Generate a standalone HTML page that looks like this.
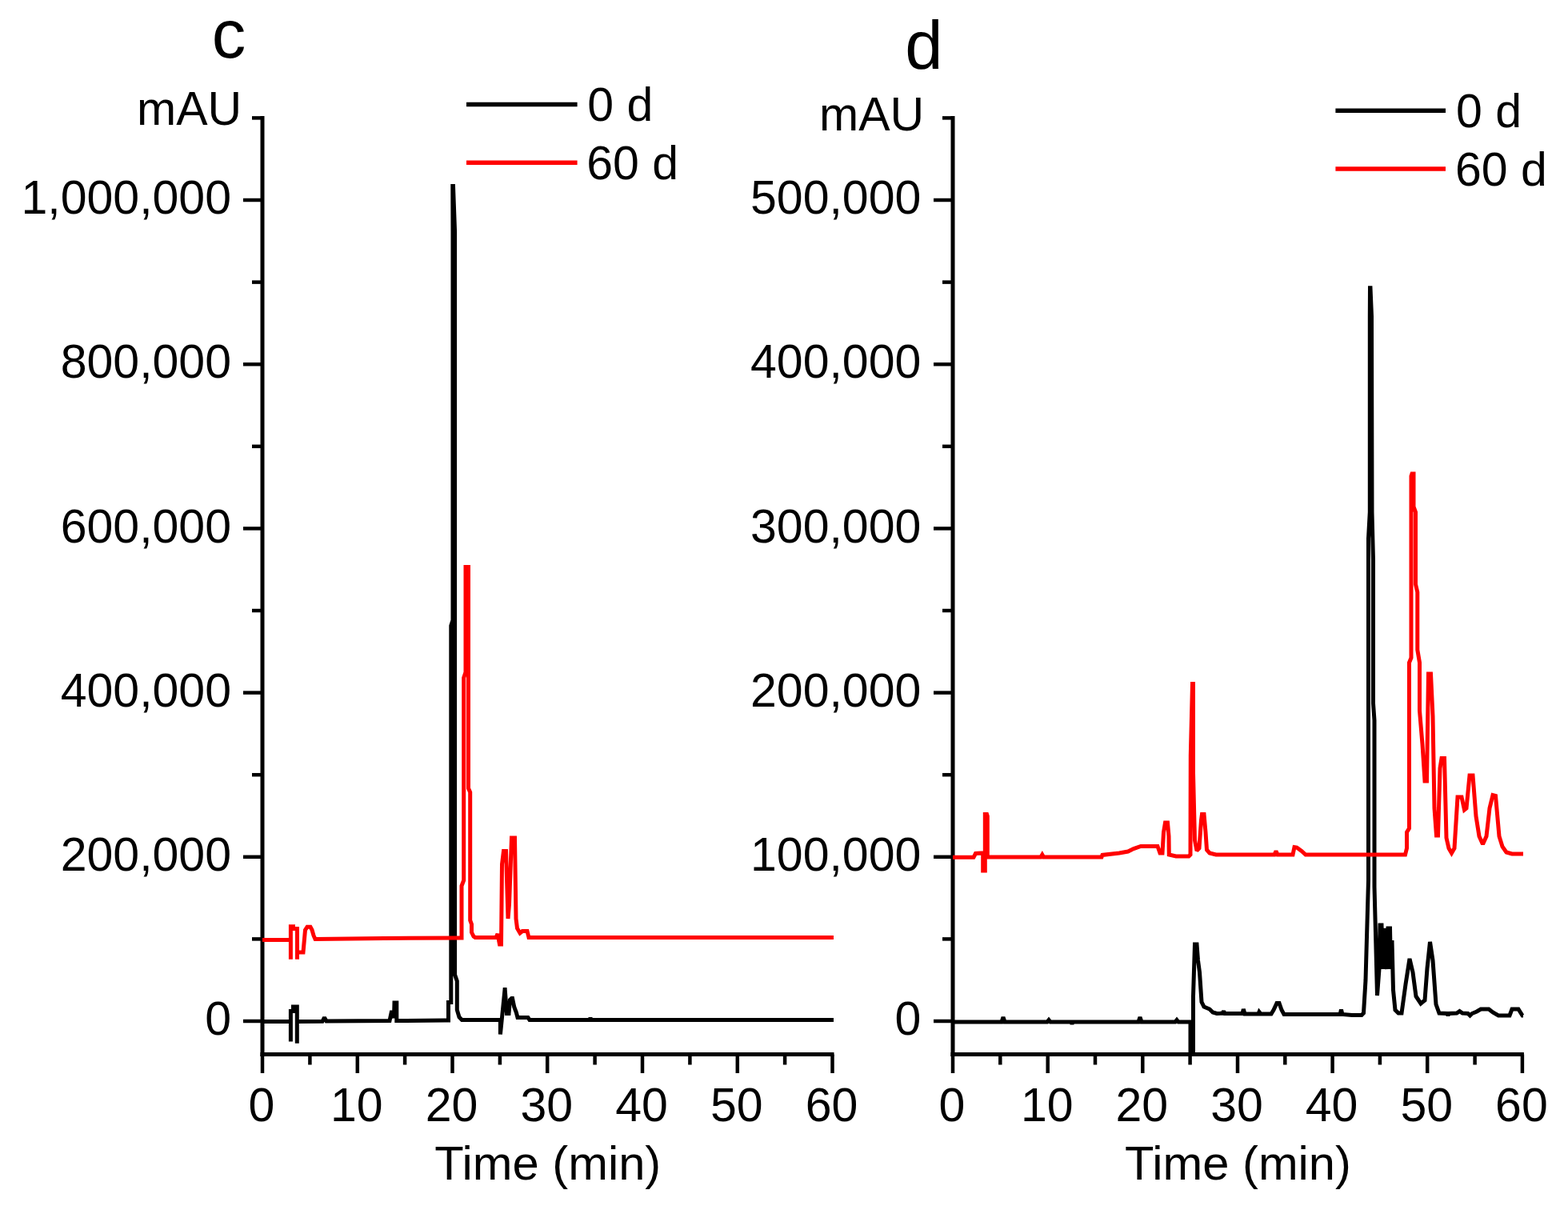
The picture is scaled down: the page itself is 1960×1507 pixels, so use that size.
<!DOCTYPE html>
<html><head><meta charset="utf-8"><title>Chromatograms c and d</title>
<style>html,body{margin:0;padding:0;background:#fff;}svg{display:block;}
text{font-family:"Liberation Sans", Arial, sans-serif;font-size:59px;fill:#000;}</style></head>
<body>
<svg width="1960" height="1507" viewBox="0 0 1960 1507">
<rect width="1960" height="1507" fill="#fff"/>
<path d="M328,145 V1320" stroke="#000" stroke-width="5" fill="none"/>
<path d="M325.5,1317.5 H1042.5" stroke="#000" stroke-width="5" fill="none"/>
<path d="M304,1276.0 H328" stroke="#000" stroke-width="4.5"/>
<path d="M304,1070.8 H328" stroke="#000" stroke-width="4.5"/>
<path d="M304,865.6 H328" stroke="#000" stroke-width="4.5"/>
<path d="M304,660.4 H328" stroke="#000" stroke-width="4.5"/>
<path d="M304,455.2 H328" stroke="#000" stroke-width="4.5"/>
<path d="M304,250.0 H328" stroke="#000" stroke-width="4.5"/>
<path d="M315,1173.4 H328" stroke="#000" stroke-width="4.5"/>
<path d="M315,968.2 H328" stroke="#000" stroke-width="4.5"/>
<path d="M315,763.0 H328" stroke="#000" stroke-width="4.5"/>
<path d="M315,557.8 H328" stroke="#000" stroke-width="4.5"/>
<path d="M315,352.6 H328" stroke="#000" stroke-width="4.5"/>
<path d="M315,147.4 H328" stroke="#000" stroke-width="4.5"/>
<path d="M328.0,1317.5 V1341" stroke="#000" stroke-width="4.5"/>
<path d="M446.8,1317.5 V1341" stroke="#000" stroke-width="4.5"/>
<path d="M565.5,1317.5 V1341" stroke="#000" stroke-width="4.5"/>
<path d="M684.2,1317.5 V1341" stroke="#000" stroke-width="4.5"/>
<path d="M803.0,1317.5 V1341" stroke="#000" stroke-width="4.5"/>
<path d="M921.8,1317.5 V1341" stroke="#000" stroke-width="4.5"/>
<path d="M1040.5,1317.5 V1341" stroke="#000" stroke-width="4.5"/>
<path d="M387.4,1317.5 V1330.5" stroke="#000" stroke-width="4.5"/>
<path d="M506.1,1317.5 V1330.5" stroke="#000" stroke-width="4.5"/>
<path d="M624.9,1317.5 V1330.5" stroke="#000" stroke-width="4.5"/>
<path d="M743.6,1317.5 V1330.5" stroke="#000" stroke-width="4.5"/>
<path d="M862.4,1317.5 V1330.5" stroke="#000" stroke-width="4.5"/>
<path d="M981.1,1317.5 V1330.5" stroke="#000" stroke-width="4.5"/>
<text x="289" y="1293.2" text-anchor="end">0</text>
<text x="289" y="1088.0" text-anchor="end">200,000</text>
<text x="289" y="882.8" text-anchor="end">400,000</text>
<text x="289" y="677.6" text-anchor="end">600,000</text>
<text x="289" y="472.4" text-anchor="end">800,000</text>
<text x="289" y="267.2" text-anchor="end">1,000,000</text>
<text x="327.0" y="1400.5" text-anchor="middle">0</text>
<text x="445.8" y="1400.5" text-anchor="middle">10</text>
<text x="564.5" y="1400.5" text-anchor="middle">20</text>
<text x="683.2" y="1400.5" text-anchor="middle">30</text>
<text x="802.0" y="1400.5" text-anchor="middle">40</text>
<text x="920.8" y="1400.5" text-anchor="middle">50</text>
<text x="1039.5" y="1400.5" text-anchor="middle">60</text>
<polyline points="328,1276.6 363.4,1276.6 363.4,1301.4 363.4,1263.5 366.5,1263.5 366.5,1258 371.3,1258 371.3,1303.7 371.3,1276.5 403,1276.3 405.5,1271.5 408,1276 487,1275.5 489.7,1263 492.5,1272 493,1253 495.8,1253 495.8,1275.5 556,1275 560.5,1275 560.5,1252.5 563.8,1252.5 563.8,782 566,775 566,290 565.8,232.5 566.5,232.5 568.6,290 568.6,1218 571.3,1226 571.3,1262 574,1271 577.4,1274.5 622,1274.5 625.4,1274.5 625.4,1292.5 631,1236.5 631.2,1236.5 633.5,1266.5 636,1266.5 637.5,1249.5 639.5,1247.5 640.5,1247.5 642.8,1258.5 645.3,1265 647,1271.5 660,1271.5 662,1274.5 737,1274.5 738,1271.8 739,1274.5 1042,1274.5" fill="none" stroke="#000" stroke-width="5" stroke-linejoin="miter" stroke-miterlimit="2"/>
<polyline points="328,1174.4 363.4,1174.4 363.4,1198.7 363.4,1157.7 366.5,1157.7 366.5,1160.5 371.5,1160.5 371.5,1198.7 371.5,1190 379,1190 381.5,1162 384,1158.3 388,1158.3 390,1162 392,1169 394,1173.5 480,1172.5 574.5,1172 577,1172 577,1107 579.7,1100 579.7,847 582,840 582,708.5 585.5,708.5 585.5,985 587.7,990 587.7,1150 589.5,1155 589.5,1165 592,1170 594,1171.5 620,1171.5 622,1167 624.5,1180 626.5,1180 627.5,1080 629.5,1063.5 632.5,1063.5 635,1148 636.5,1130 639.5,1047 643.5,1047 645,1148 646.5,1160 650,1166 653,1163.5 659,1163.5 661,1171.5 1042,1171.5" fill="none" stroke="#f00" stroke-width="5" stroke-linejoin="miter" stroke-miterlimit="2"/>
<text x="171" y="156.2">mAU</text>
<path d="M583,130.5 H721.6" stroke="#000" stroke-width="5.5"/>
<path d="M583,203.3 H721.6" stroke="#f00" stroke-width="5.5"/>
<text x="734.3" y="151.2">0 d</text>
<text x="733.3" y="224.2">60 d</text>
<text x="264.8" y="72" style="font-size:85px">c</text>
<text x="543.3" y="1474.4" style="font-size:59.7px">Time (min)</text>
<path d="M1191,145 V1320" stroke="#000" stroke-width="5" fill="none"/>
<path d="M1188.5,1317.5 H1904.9" stroke="#000" stroke-width="5" fill="none"/>
<path d="M1167,1276.0 H1191" stroke="#000" stroke-width="4.5"/>
<path d="M1167,1070.8 H1191" stroke="#000" stroke-width="4.5"/>
<path d="M1167,865.6 H1191" stroke="#000" stroke-width="4.5"/>
<path d="M1167,660.4 H1191" stroke="#000" stroke-width="4.5"/>
<path d="M1167,455.2 H1191" stroke="#000" stroke-width="4.5"/>
<path d="M1167,250.0 H1191" stroke="#000" stroke-width="4.5"/>
<path d="M1178,1173.4 H1191" stroke="#000" stroke-width="4.5"/>
<path d="M1178,968.2 H1191" stroke="#000" stroke-width="4.5"/>
<path d="M1178,763.0 H1191" stroke="#000" stroke-width="4.5"/>
<path d="M1178,557.8 H1191" stroke="#000" stroke-width="4.5"/>
<path d="M1178,352.6 H1191" stroke="#000" stroke-width="4.5"/>
<path d="M1178,147.4 H1191" stroke="#000" stroke-width="4.5"/>
<path d="M1191.0,1317.5 V1341" stroke="#000" stroke-width="4.5"/>
<path d="M1309.7,1317.5 V1341" stroke="#000" stroke-width="4.5"/>
<path d="M1428.3,1317.5 V1341" stroke="#000" stroke-width="4.5"/>
<path d="M1547.0,1317.5 V1341" stroke="#000" stroke-width="4.5"/>
<path d="M1665.6,1317.5 V1341" stroke="#000" stroke-width="4.5"/>
<path d="M1784.2,1317.5 V1341" stroke="#000" stroke-width="4.5"/>
<path d="M1902.9,1317.5 V1341" stroke="#000" stroke-width="4.5"/>
<path d="M1250.3,1317.5 V1330.5" stroke="#000" stroke-width="4.5"/>
<path d="M1369.0,1317.5 V1330.5" stroke="#000" stroke-width="4.5"/>
<path d="M1487.6,1317.5 V1330.5" stroke="#000" stroke-width="4.5"/>
<path d="M1606.3,1317.5 V1330.5" stroke="#000" stroke-width="4.5"/>
<path d="M1724.9,1317.5 V1330.5" stroke="#000" stroke-width="4.5"/>
<path d="M1843.6,1317.5 V1330.5" stroke="#000" stroke-width="4.5"/>
<text x="1151.3" y="1293.2" text-anchor="end">0</text>
<text x="1151.3" y="1088.0" text-anchor="end">100,000</text>
<text x="1151.3" y="882.8" text-anchor="end">200,000</text>
<text x="1151.3" y="677.6" text-anchor="end">300,000</text>
<text x="1151.3" y="472.4" text-anchor="end">400,000</text>
<text x="1151.3" y="267.2" text-anchor="end">500,000</text>
<text x="1190.0" y="1400.5" text-anchor="middle">0</text>
<text x="1308.7" y="1400.5" text-anchor="middle">10</text>
<text x="1427.3" y="1400.5" text-anchor="middle">20</text>
<text x="1546.0" y="1400.5" text-anchor="middle">30</text>
<text x="1664.6" y="1400.5" text-anchor="middle">40</text>
<text x="1783.2" y="1400.5" text-anchor="middle">50</text>
<text x="1901.9" y="1400.5" text-anchor="middle">60</text>
<polyline points="1191,1277 1252,1277 1254,1271 1256,1277 1309,1277 1311,1274.5 1313,1277 1339,1277 1340,1279.5 1341,1277 1423,1277 1425,1271 1427,1277 1469,1277 1471,1274.5 1473,1277 1488,1277 1488,1313 1491.5,1313 1491.5,1245 1493.5,1180 1496,1180 1497.5,1200 1499.5,1215 1502,1252 1505,1258 1512,1261 1516,1265 1521,1266.5 1528,1266 1529.6,1263.5 1531,1266.5 1553,1266.5 1554.3,1261 1556,1267 1573,1267 1574,1264.5 1576,1267 1589,1267 1592,1262 1596,1253.5 1599,1253.5 1602,1262 1605,1267.5 1675,1267.5 1676.5,1261.5 1678,1267.5 1690,1268.5 1702,1268.5 1704.5,1266 1707,1225 1710.5,1100 1710.5,673 1712.3,640 1712.3,395 1712.5,359.7 1713,359.7 1714.5,395 1715,640 1716.5,700 1716.5,879 1718,900 1718,1108 1721.5,1244 1724,1211 1725,1156 1727,1156 1728.5,1211 1730,1160 1731.5,1180 1733.5,1211 1735,1160 1737.5,1160 1738.5,1211 1740,1175 1741.5,1237 1744,1262 1748,1266 1752,1266 1757,1230 1762,1198 1766,1215 1770,1245 1776,1254 1781,1250 1784,1210 1787.5,1177 1791,1200 1795,1255 1799,1266 1809,1266.5 1810,1269 1811,1266.5 1821,1266 1824.5,1263.5 1828,1266 1835,1266.5 1837.5,1269 1840,1266.5 1846,1264 1851,1261 1861,1261 1866,1265 1873,1269 1887,1269 1890,1261 1898,1261 1903,1269 1904,1269" fill="none" stroke="#000" stroke-width="5" stroke-linejoin="miter" stroke-miterlimit="2"/>
<polyline points="1191,1071.3 1217,1071.3 1219.5,1066.5 1226.5,1066 1228.7,1066 1228.7,1088 1231.3,1088 1231.3,1017.4 1233.5,1017.4 1234.3,1020 1234.3,1071 1301,1071 1302.8,1068 1304.5,1071 1377,1071 1378,1068.4 1399,1066 1410,1064 1417,1060.6 1426,1057.5 1447,1057.5 1450,1066 1453,1066 1454.5,1040 1456.5,1028 1459.5,1028 1461,1045 1461.3,1068 1470,1070 1486,1070 1488,1068 1488.3,944 1490.5,854.5 1491.5,854.5 1491.5,966 1493.5,1050 1496,1063 1499,1060 1501.5,1025 1502.5,1017.5 1505,1017.5 1507,1040 1508.5,1062 1512,1066 1520,1068 1593,1068 1595,1063.5 1597,1068 1616,1068 1618,1058.5 1621,1059 1627,1063.5 1632,1068 1756.5,1068 1758.5,1060 1758.5,1040 1761.5,1035 1761.5,828 1764,822 1764,595 1765,592 1767,592 1767,633 1769.5,640 1769.5,730 1771.8,740 1771.8,812 1774.5,828 1774.5,888 1778,930 1781,976 1783.5,976 1785.5,842 1788.5,842 1791,895 1793,1010 1795.5,1044 1797.5,1044 1800,960 1802,947.5 1805.5,947.5 1808,1047 1811,1060 1814.5,1066 1818,1060 1822,996 1827,996 1830.5,1012 1833,1010 1837,969 1841,969 1845,1020 1849,1045 1853.5,1055 1858,1045 1862,1010 1866,993.5 1869.5,994.5 1874,1045 1878,1058 1883,1065 1890,1067 1904,1067" fill="none" stroke="#f00" stroke-width="5" stroke-linejoin="miter" stroke-miterlimit="2"/>
<text x="1024" y="162.8">mAU</text>
<path d="M1669.4,138.2 H1807" stroke="#000" stroke-width="5.5"/>
<path d="M1669.4,211 H1807" stroke="#f00" stroke-width="5.5"/>
<text x="1820" y="158.9">0 d</text>
<text x="1819" y="231.5">60 d</text>
<text x="1131.2" y="86" style="font-size:85px">d</text>
<text x="1406" y="1474.4" style="font-size:59.7px">Time (min)</text>
</svg>
</body></html>
